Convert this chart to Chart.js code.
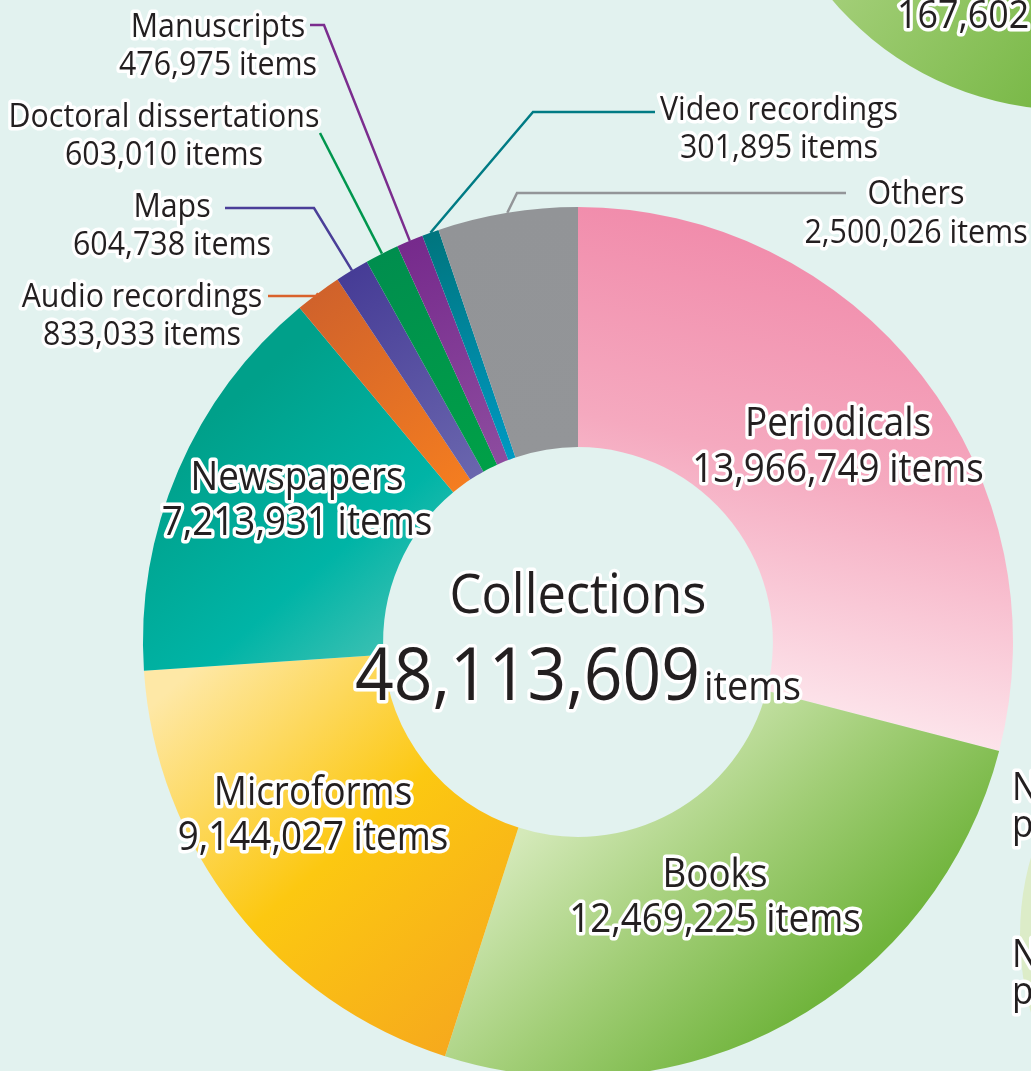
<!DOCTYPE html>
<html>
<head>
<meta charset="utf-8">
<script src="https://cdn.jsdelivr.net/npm/chart.js@4.4.1/dist/chart.umd.min.js"></script>
<style>
  html, body { margin: 0; padding: 0; background: #e2f2ef; overflow: hidden; }
  #stage { position: relative; width: 1031px; height: 1071px; overflow: hidden; }
  #stage canvas { position: absolute; }
  #side-top { left: 758px; top: -514px; }
  #side-right { left: 1020px; top: 653px; }
  #collections { left: 0; top: 0; }
</style>
</head>
<body>
<div id="stage">
  <canvas id="side-top" width="624" height="624"></canvas>
  <canvas id="side-right" width="564" height="564"></canvas>
  <canvas id="collections" width="1031" height="1071"></canvas>
</div>
<script>
const categories = ['Periodicals', 'Books', 'Microforms', 'Newspapers', 'Audio recordings',
  'Maps', 'Doctoral dissertations', 'Manuscripts', 'Video recordings', 'Others'];
const itemCounts = [13966749, 12469225, 9144027, 7213931, 833033, 604738, 603010, 476975, 301895, 2500026];
const totalLabel = 'Collections';
const totalItems = 48113609;
const sideCounts = [167602];
const sideLetters = ['N', 'p', 'N', 'p'];

const FONT = '"Open Sans", "Noto Sans", sans-serif';
const INK = '#231f20';
const NARROW = 0.92; // squeeze Open Sans towards the narrower original face
const outerRadius = 435;
const cutoutRatio = 0.448;

// fills: linear ones in units of the outer radius from the centre, radial ones run inner -> outer
const segmentFills = [
  {from: [0.51, -0.90], to: [0.28, 0.13], stops: [[0, '#f18dac'], [0.45, '#f5a9bf'], [1, '#fde7ed']]},
  {from: [-0.04, 0.36], to: [0.46, 0.91], stops: [[0, '#d4e9b9'], [0.5, '#a2ce77'], [1, '#70b43c']]},
  {from: [-0.94, 0.11], to: [-0.23, 0.91], stops: [[0, '#fee8a6'], [0.5, '#fcc811'], [1, '#f6a81d']]},
  {from: [-0.87, -0.49], to: [-0.41, 0.04], stops: [[0, '#00a08a'], [0.6, '#00b4a6'], [1, '#43c2b4']]},
  {stops: [[0, '#f47d20'], [1, '#d0622b']]},
  {stops: [[0, '#6a66ae'], [1, '#463c96']]},
  {stops: [[0, '#00a047'], [1, '#008e4e']]},
  {stops: [[0, '#8d4c9f'], [1, '#762a8c']]},
  {stops: [[0, '#0099c2'], [1, '#00757e']]},
  {stops: [[0, '#939598'], [1, '#929497']]},
];

// label anchor = centre x, first baseline; leader = points from the label towards the ring
const labelLayout = [
  {x: 838, y: 436, lh: 46, size: 40},
  {x: 715, y: 887, lh: 45, size: 40},
  {x: 313, y: 805, lh: 45, size: 40},
  {x: 297, y: 490, lh: 45, size: 40},
  {x: 142, y: 307, lh: 38, size: 33, color: '#d9622b', leader: [[268, 296], [316, 296]]},
  {x: 172, y: 217, lh: 38, size: 33, color: '#4a3f98', leader: [[225, 208], [314, 208]]},
  {x: 164, y: 127, lh: 38, size: 33, color: '#00964e', leader: [[320, 133]]},
  {x: 218, y: 37, lh: 38, size: 33, color: '#7b2d8e', leader: [[310, 25], [324, 25]]},
  {x: 779, y: 120, lh: 38, size: 33, color: '#007b84', leader: [[655, 112], [533, 112]]},
  {x: 916, y: 204, lh: 39, size: 33, color: '#939598', leader: [[846, 193], [517, 193]]},
];

function segmentFill(context) {
  const chart = context.chart;
  const area = chart.chartArea;
  const fill = segmentFills[context.dataIndex];
  if (!area) {
    return fill.stops[0][1];
  }
  const cx = (area.left + area.right) / 2;
  const cy = (area.top + area.bottom) / 2;
  const R = outerRadius;
  let g;
  if (fill.from) {
    g = chart.ctx.createLinearGradient(cx + fill.from[0] * R, cy + fill.from[1] * R,
      cx + fill.to[0] * R, cy + fill.to[1] * R);
  } else {
    g = chart.ctx.createRadialGradient(cx, cy, R * cutoutRatio, cx, cy, R);
  }
  fill.stops.forEach(([o, c]) => g.addColorStop(o, c));
  return g;
}

function textWidth(ctx, text, size) {
  ctx.font = `${size}px ${FONT}`;
  return ctx.measureText(text).width * NARROW;
}

function haloText(ctx, text, x, y, size, align, maxWidth) {
  ctx.save();
  ctx.translate(x, y);
  ctx.scale(NARROW, 1);
  ctx.font = `${size}px ${FONT}`;
  ctx.textAlign = align || 'center';
  ctx.textBaseline = 'alphabetic';
  ctx.lineJoin = 'round';
  ctx.lineWidth = 7;
  ctx.strokeStyle = '#ffffff';
  const args = maxWidth ? [text, 0, 0, maxWidth / NARROW] : [text, 0, 0];
  ctx.strokeText(...args);
  ctx.fillStyle = INK;
  ctx.fillText(...args);
  ctx.restore();
}

const fmt = n => n.toLocaleString('en-US');

const labelPlugin = {
  id: 'collectionLabels',
  afterDatasetsDraw(chart) {
    const ctx = chart.ctx;
    const meta = chart.getDatasetMeta(0);
    ctx.save();

    // leader lines from the small slices
    labelLayout.forEach((lay, i) => {
      if (!lay.leader) {
        return;
      }
      const arc = meta.data[i];
      const {x, y, startAngle, endAngle, outerRadius: r} =
        arc.getProps(['x', 'y', 'startAngle', 'endAngle', 'outerRadius'], true);
      const mid = (startAngle + endAngle) / 2;
      ctx.beginPath();
      ctx.moveTo(lay.leader[0][0], lay.leader[0][1]);
      lay.leader.slice(1).forEach(p => ctx.lineTo(p[0], p[1]));
      ctx.lineTo(x + Math.cos(mid) * r, y + Math.sin(mid) * r);
      ctx.strokeStyle = lay.color;
      ctx.lineWidth = 2.5;
      ctx.lineJoin = 'miter';
      ctx.stroke();
    });

    labelLayout.forEach((lay, i) => {
      haloText(ctx, categories[i], lay.x, lay.y, lay.size);
      haloText(ctx, `${fmt(itemCounts[i])} items`, lay.x, lay.y + lay.lh, lay.size);
    });

    // centre total
    const area = chart.chartArea;
    const cx = (area.left + area.right) / 2;
    haloText(ctx, totalLabel, cx, 613, 55, 'center', 258);
    const numW = Math.min(textWidth(ctx, fmt(totalItems), 74), 345);
    const unitW = textWidth(ctx, 'items', 41);
    const left = cx - (numW + 4 + unitW) / 2;
    haloText(ctx, fmt(totalItems), left, 700, 74, 'left', 345);
    haloText(ctx, 'items', left + numW + 4, 700, 41, 'left');

    // neighbouring figures cut by the frame
    haloText(ctx, fmt(sideCounts[0]), 897, 28, 39, 'left');
    haloText(ctx, sideLetters[0], 1012, 800, 38, 'left');
    haloText(ctx, sideLetters[1], 1012, 837, 38, 'left');
    haloText(ctx, sideLetters[2], 1012, 967, 38, 'left');
    haloText(ctx, sideLetters[3], 1012, 1004, 38, 'left');
    ctx.restore();
  }
};

new Chart(document.getElementById('collections').getContext('2d'), {
  type: 'doughnut',
  data: {
    labels: categories,
    datasets: [{
      data: itemCounts,
      backgroundColor: segmentFill,
      borderWidth: 0,
      hoverOffset: 0,
      clip: false,
    }]
  },
  options: {
    responsive: false,
    devicePixelRatio: 1,
    animation: false,
    cutout: (cutoutRatio * 100) + '%',
    radius: outerRadius,
    layout: {padding: {left: 125, right: 0, top: 213, bottom: 0}},
    plugins: {legend: {display: false}, tooltip: {enabled: false}},
    events: [],
  },
  plugins: [labelPlugin]
});

// the green disc of the next figure, top right
new Chart(document.getElementById('side-top').getContext('2d'), {
  type: 'pie',
  data: {
    labels: ['side'],
    datasets: [{
      data: sideCounts,
      borderWidth: 0,
      backgroundColor(context) {
        const area = context.chart.chartArea;
        if (!area) {
          return '#8fc45e';
        }
        const g = context.chart.ctx.createLinearGradient(80, 460, 300, 640);
        g.addColorStop(0, '#a8d17e');
        g.addColorStop(1, '#74b641');
        return g;
      },
    }]
  },
  options: {
    responsive: false,
    devicePixelRatio: 1,
    animation: false,
    plugins: {legend: {display: false}, tooltip: {enabled: false}},
    events: [],
  }
});

// pale disc at the right edge
new Chart(document.getElementById('side-right').getContext('2d'), {
  type: 'pie',
  data: {
    labels: ['side'],
    datasets: [{data: [1], borderWidth: 0, backgroundColor: '#dcecc8'}]
  },
  options: {
    responsive: false,
    devicePixelRatio: 1,
    animation: false,
    plugins: {legend: {display: false}, tooltip: {enabled: false}},
    events: [],
  }
});
</script>
</body>
</html>
